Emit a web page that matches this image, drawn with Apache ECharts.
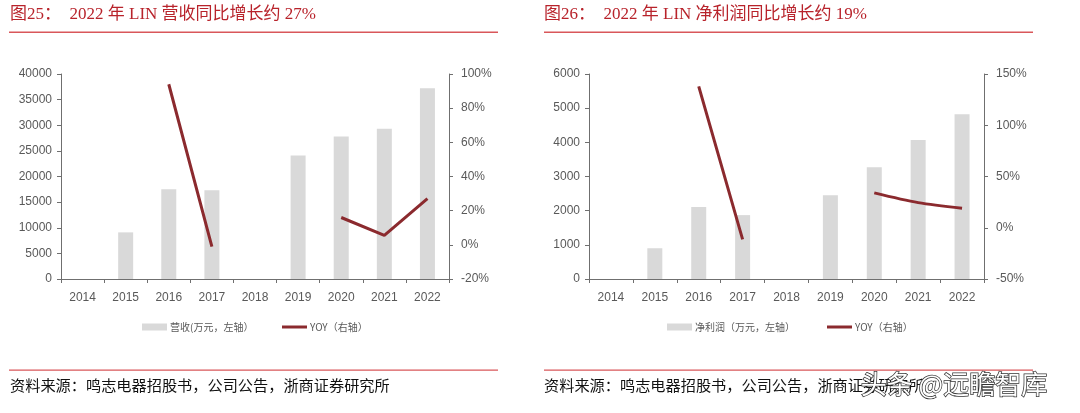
<!DOCTYPE html>
<html><head><meta charset="utf-8">
<script src="https://cdn.jsdelivr.net/npm/echarts@6/dist/echarts.min.js"></script>
<style>html,body{margin:0;padding:0;background:#fff}#c{width:1080px;height:413px}</style>
</head><body><div id="c"></div>
<script>
const years = ['2014','2015','2016','2017','2018','2019','2020','2021','2022'];
const revenue = [null, 9100, 17500, 17300, null, 24100, 27800, 29300, 37200];
const revenueYoy = [null, null, 94, -1, null, null, 16, 5.5, 27];
const profit = [null, 900, 2110, 1870, null, 2450, 3270, 4065, 4820];
const profitYoy = [null, null, 138, -11.3, null, null, 34, 24.5, 19];
const titleLeft = '图25：  2022 年 LIN 营收同比增长约 27%';
const titleRight = '图26：  2022 年 LIN 净利润同比增长约 19%';
const sourceText = '资料来源：鸣志电器招股书，公司公告，浙商证券研究所';
const revName = '营收(万元，左轴）';
const profName = '净利润（万元，左轴）';
const yoyName = 'YOY（右轴）';

const axisColor = '#6f6f6f';
const labelColor = '#595959';
const barColor = '#d9d9d9';
const lineColor = '#8b2a2e';
const redText = '#b8232b';
const redLine = '#d9575a';
const latin = '"Liberation Sans", Arial, "Noto Sans CJK SC", sans-serif';
const serif = '"Liberation Serif", "DejaVu Serif", "Noto Sans CJK SC", serif';
const cjk = '"Noto Sans CJK SC", sans-serif';

function xAx(gi){return {type:'category', gridIndex:gi, data:years,
  axisLine:{lineStyle:{color:axisColor,width:1}}, axisTick:{show:true,length:4,lineStyle:{color:axisColor}},
  axisLabel:{color:labelColor,fontSize:12,fontFamily:latin,margin:13}};}
function yAx(gi,min,max,iv,pos,fmt,margin){return {type:'value', gridIndex:gi, min:min, max:max, interval:iv, position:pos,
  splitLine:{show:false}, axisLine:{show:true,lineStyle:{color:axisColor,width:1}},
  axisTick:{show:true,length:4,lineStyle:{color:axisColor}},
  axisLabel:{color:labelColor,fontSize:12,fontFamily:latin,margin:margin,formatter:fmt}};}
const plain = v => String(v);
const pct = v => v + '%';
const legText = {fontSize:10,color:labelColor,fontFamily:cjk,padding:[0,0,0,-2]};

const chart = echarts.init(document.getElementById('c'), null, {renderer:'canvas'});
chart.setOption({
  animation:false,
  grid:[{left:61, width:388, top:74, height:205},{left:589, width:395, top:74, height:205}],
  xAxis:[xAx(0), xAx(1)],
  yAxis:[yAx(0,0,40000,5000,'left',plain,9), yAx(0,-20,100,20,'right',pct,12),
         yAx(1,0,6000,1000,'left',plain,9), yAx(1,-50,150,50,'right',pct,12)],
  legend:[
    {left:137, top:317, itemWidth:25, itemHeight:7, data:[{name:revName, icon:'rect'}], textStyle:legText},
    {left:277, top:317, itemWidth:25, itemHeight:3, data:[{name:yoyName, icon:'rect'}], textStyle:legText},
    {left:662, top:317, itemWidth:25, itemHeight:7, data:[{name:profName, icon:'rect'}], textStyle:legText},
    {left:822, top:317, itemWidth:25, itemHeight:3, data:[{name:yoyName, icon:'rect'}], textStyle:legText}
  ],
  series:[
    {name:revName, type:'bar', xAxisIndex:0, yAxisIndex:0, data:revenue, barWidth:15, itemStyle:{color:barColor}},
    {name:yoyName, type:'line', xAxisIndex:0, yAxisIndex:1, data:revenueYoy, symbol:'none', connectNulls:false,
     lineStyle:{color:lineColor,width:3}, itemStyle:{color:lineColor}},
    {name:profName, type:'bar', xAxisIndex:1, yAxisIndex:2, data:profit, barWidth:15, itemStyle:{color:barColor}},
    {name:yoyName, type:'line', xAxisIndex:1, yAxisIndex:3, data:profitYoy, symbol:'none', connectNulls:false, smooth:0.3,
     lineStyle:{color:lineColor,width:3}, itemStyle:{color:lineColor}}
  ],
  graphic:[
    {type:'text', left:10, top:6, style:{text:titleLeft, fill:redText, font:'17px '+serif}},
    {type:'text', left:544, top:6, style:{text:titleRight, fill:redText, font:'17px '+serif}},
    {type:'rect', shape:{x:9,y:31.5,width:489,height:1.5}, style:{fill:redLine}},
    {type:'rect', shape:{x:544,y:31.5,width:489,height:1.5}, style:{fill:redLine}},
    {type:'rect', shape:{x:9,y:369.5,width:489,height:1.2}, style:{fill:redLine}},
    {type:'rect', shape:{x:544,y:369.5,width:489,height:1.2}, style:{fill:redLine}},
    {type:'text', left:10, top:378, style:{text:sourceText, fill:'#111', font:'15.2px '+cjk}},
    {type:'text', left:544, top:378, style:{text:sourceText, fill:'#111', font:'15.2px '+cjk}},
    {type:'text', left:860, top:370, z:100, style:{text:'头条 @远瞻智库', fill:'#ffffff', stroke:'#333', lineWidth:1.5, font:'26px '+cjk}}
  ]
});
</script></body></html>
